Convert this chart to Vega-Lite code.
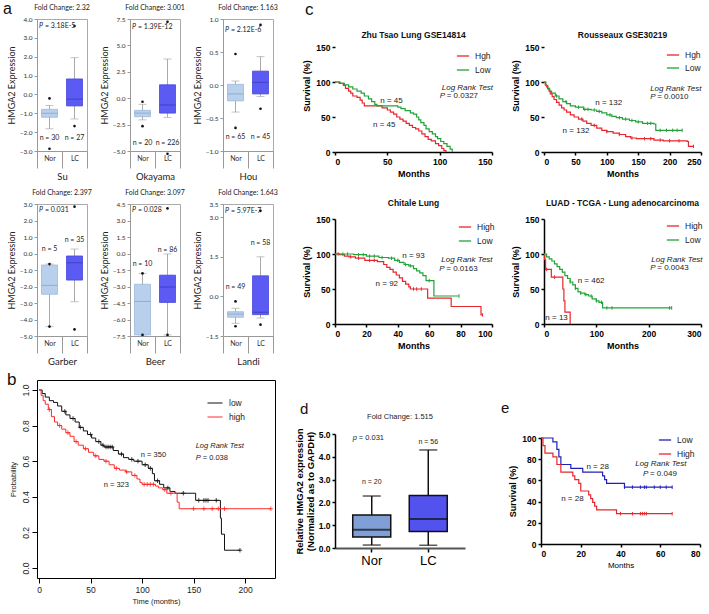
{
"$schema": "https://vega.github.io/schema/vega-lite/v6.json",
"padding": {"left": 3, "top": 0, "right": 0, "bottom": 0},
"background": "white",
"config": {
 "font": "Liberation Sans",
 "view": {"stroke": null},
 "axis": {"grid": false, "labelOverlap": false},
 "title": {"font": "Liberation Sans", "color": "#111"},
 "legend": {"labelFont": "Liberation Sans", "labelColor": "#222"},
 "style": {
  "ax-a": {"domainColor": "#999", "tickColor": "#999", "tickSize": 3, "labelFontSize": 6.5, "labelColor": "#333", "labelFont": "Lato", "titleFont": "Lato", "titleFontSize": 9, "titleFontWeight": "normal", "titleColor": "#222", "titlePadding": 3, "labelPadding": 2, "labelOverlap": false},
  "ax-ax": {"domainColor": "#999", "tickColor": "#999", "tickBand": "extent", "tickSize": 17, "labelPadding": -14, "labelFontSize": 7, "labelAngle": 0, "labelColor": "#333", "labelFont": "Lato", "titleFont": "Lato", "titleFontSize": 9.5, "titleFontWeight": "normal", "titleColor": "#222", "titlePadding": 3},
  "ax-km": {"domainColor": "#000", "domainWidth": 1.5, "tickColor": "#000", "tickWidth": 1.5, "tickSize": 3, "labelFontSize": 8.5, "labelFontWeight": "bold", "labelColor": "#000", "titleFontSize": 9, "titleFontWeight": "bold", "titleColor": "#000", "labelPadding": 2, "titlePadding": 4, "labelOverlap": false},
  "ax-b": {"domain": false, "tickColor": "#000", "tickSize": 5, "labelFontSize": 8.5, "labelColor": "#222", "titleFontSize": 7.5, "titleFontWeight": "normal", "titleColor": "#222", "labelOverlap": false}
 }
},
"datasets": {
 "abox": [
  {"ds":"Su","cat":"Nor","lo":-1.82,"q1":-1.21,"med":-1.0,"q3":-0.79,"hi":-0.59},
  {"ds":"Su","cat":"LC","lo":-1.3,"q1":-0.61,"med":-0.25,"q3":0.82,"hi":1.95},
  {"ds":"Okayama","cat":"Nor","lo":-2.05,"q1":-1.75,"med":-1.41,"q3":-1.15,"hi":-0.58},
  {"ds":"Okayama","cat":"LC","lo":-1.82,"q1":-1.41,"med":-0.64,"q3":1.27,"hi":3.71},
  {"ds":"Hou","cat":"Nor","lo":-0.41,"q1":-0.24,"med":-0.135,"q3":0.01,"hi":0.06},
  {"ds":"Hou","cat":"LC","lo":-0.175,"q1":-0.135,"med":0.04,"q3":0.21,"hi":0.43},
  {"ds":"Garber","cat":"Nor","lo":-4.43,"q1":-2.47,"med":-1.93,"q3":-0.7,"hi":-0.64},
  {"ds":"Garber","cat":"LC","lo":-2.92,"q1":-1.61,"med":-0.56,"q3":-0.15,"hi":0.27},
  {"ds":"Beer","cat":"Nor","lo":-7.4,"q1":-7.4,"med":-4.36,"q3":-2.8,"hi":-1.81},
  {"ds":"Beer","cat":"LC","lo":-7.4,"q1":-4.45,"med":-3.05,"q3":-1.97,"hi":-0.04},
  {"ds":"Landi","cat":"Nor","lo":-1.02,"q1":-0.79,"med":-0.67,"q3":-0.58,"hi":-0.45},
  {"ds":"Landi","cat":"LC","lo":-0.82,"q1":-0.69,"med":-0.6,"q3":0.78,"hi":1.5}
 ],
 "aout": [
  {"ds":"Su","cat":"Nor","v":-0.21},{"ds":"Su","cat":"Nor","v":-2.88},{"ds":"Su","cat":"LC","v":3.63},{"ds":"Su","cat":"LC","v":-1.68},
  {"ds":"Okayama","cat":"Nor","v":-0.34},{"ds":"Okayama","cat":"Nor","v":-2.65},{"ds":"Okayama","cat":"LC","v":7.23},{"ds":"Okayama","cat":"LC","v":-5.27},
  {"ds":"Hou","cat":"Nor","v":0.47},{"ds":"Hou","cat":"Nor","v":-0.65},{"ds":"Hou","cat":"LC","v":0.91},{"ds":"Hou","cat":"LC","v":-0.36},
  {"ds":"Garber","cat":"Nor","v":-0.64},{"ds":"Garber","cat":"Nor","v":-4.43},{"ds":"Garber","cat":"LC","v":2.84},{"ds":"Garber","cat":"LC","v":-4.6},
  {"ds":"Beer","cat":"Nor","v":-1.81},{"ds":"Beer","cat":"Nor","v":-7.4},{"ds":"Beer","cat":"LC","v":4.1},{"ds":"Beer","cat":"LC","v":-7.4},
  {"ds":"Landi","cat":"Nor","v":-0.19},{"ds":"Landi","cat":"Nor","v":-1.13},{"ds":"Landi","cat":"LC","v":3.24},{"ds":"Landi","cat":"LC","v":-1.07}
 ],
 "an": [
  {"ds":"Su","cat":"Nor","y":-2.29,"label":"n = 30"},{"ds":"Su","cat":"LC","y":-2.29,"label":"n = 27"},
  {"ds":"Okayama","cat":"Nor","y":-4.2,"label":"n = 20"},{"ds":"Okayama","cat":"LC","y":-4.2,"label":"n = 226"},
  {"ds":"Hou","cat":"Nor","y":-0.79,"label":"n = 65"},{"ds":"Hou","cat":"LC","y":-0.79,"label":"n = 45"},
  {"ds":"Garber","cat":"Nor","y":0.27,"label":"n = 5"},{"ds":"Garber","cat":"LC","y":0.82,"label":"n = 35"},
  {"ds":"Beer","cat":"Nor","y":-0.97,"label":"n = 10"},{"ds":"Beer","cat":"LC","y":0.3,"label":"n = 86"},
  {"ds":"Landi","cat":"Nor","y":0.34,"label":"n = 49"},{"ds":"Landi","cat":"LC","y":2.02,"label":"n = 58"}
 ],
 "ap": [
  {"ds":"Su","cat":"Nor","y":3.64,"label":"= 3.18E-5"},
  {"ds":"Okayama","cat":"Nor","y":6.73,"label":"= 1.39E-12"},
  {"ds":"Hou","cat":"Nor","y":0.83,"label":"= 2.12E-6"},
  {"ds":"Garber","cat":"Nor","y":2.64,"label":"= 0.031"},
  {"ds":"Beer","cat":"Nor","y":3.94,"label":"= 0.028"},
  {"ds":"Landi","cat":"Nor","y":3.24,"label":"= 5.97E-7"}
 ],
 "kmc": [
  {"p":"zhu","g":"Hgh","t":0,"s":100},{"p":"zhu","g":"Hgh","t":4,"s":98},{"p":"zhu","g":"Hgh","t":8,"s":95},{"p":"zhu","g":"Hgh","t":10,"s":91},{"p":"zhu","g":"Hgh","t":13,"s":87},{"p":"zhu","g":"Hgh","t":15,"s":84},{"p":"zhu","g":"Hgh","t":17,"s":80},{"p":"zhu","g":"Hgh","t":21,"s":78},{"p":"zhu","g":"Hgh","t":24,"s":74},{"p":"zhu","g":"Hgh","t":26,"s":70},{"p":"zhu","g":"Hgh","t":28,"s":66},{"p":"zhu","g":"Hgh","t":45,"s":63},{"p":"zhu","g":"Hgh","t":50,"s":60},{"p":"zhu","g":"Hgh","t":53,"s":57},{"p":"zhu","g":"Hgh","t":56,"s":54},{"p":"zhu","g":"Hgh","t":59,"s":50},{"p":"zhu","g":"Hgh","t":62,"s":47},{"p":"zhu","g":"Hgh","t":65,"s":44},{"p":"zhu","g":"Hgh","t":68,"s":41},{"p":"zhu","g":"Hgh","t":71,"s":38},{"p":"zhu","g":"Hgh","t":74,"s":35},{"p":"zhu","g":"Hgh","t":77,"s":33},{"p":"zhu","g":"Hgh","t":80,"s":30},{"p":"zhu","g":"Hgh","t":83,"s":26},{"p":"zhu","g":"Hgh","t":86,"s":22},{"p":"zhu","g":"Hgh","t":89,"s":18},{"p":"zhu","g":"Hgh","t":92,"s":16},{"p":"zhu","g":"Hgh","t":96,"s":12},{"p":"zhu","g":"Hgh","t":99,"s":9},{"p":"zhu","g":"Hgh","t":102,"s":5},{"p":"zhu","g":"Hgh","t":104,"s":2},{"p":"zhu","g":"Hgh","t":106,"s":0},
  {"p":"zhu","g":"Low","t":0,"s":100},{"p":"zhu","g":"Low","t":5,"s":98},{"p":"zhu","g":"Low","t":9,"s":96},{"p":"zhu","g":"Low","t":13,"s":93},{"p":"zhu","g":"Low","t":17,"s":90},{"p":"zhu","g":"Low","t":21,"s":87},{"p":"zhu","g":"Low","t":25,"s":84},{"p":"zhu","g":"Low","t":28,"s":80},{"p":"zhu","g":"Low","t":32,"s":76},{"p":"zhu","g":"Low","t":35,"s":72},{"p":"zhu","g":"Low","t":38,"s":68},{"p":"zhu","g":"Low","t":40,"s":66},{"p":"zhu","g":"Low","t":60,"s":64},{"p":"zhu","g":"Low","t":63,"s":62},{"p":"zhu","g":"Low","t":67,"s":59},{"p":"zhu","g":"Low","t":72,"s":56},{"p":"zhu","g":"Low","t":75,"s":54},{"p":"zhu","g":"Low","t":78,"s":50},{"p":"zhu","g":"Low","t":80,"s":46},{"p":"zhu","g":"Low","t":82,"s":42},{"p":"zhu","g":"Low","t":85,"s":38},{"p":"zhu","g":"Low","t":87,"s":33},{"p":"zhu","g":"Low","t":90,"s":29},{"p":"zhu","g":"Low","t":93,"s":26},{"p":"zhu","g":"Low","t":96,"s":22},{"p":"zhu","g":"Low","t":98,"s":19},{"p":"zhu","g":"Low","t":101,"s":15},{"p":"zhu","g":"Low","t":104,"s":12},{"p":"zhu","g":"Low","t":107,"s":8},{"p":"zhu","g":"Low","t":110,"s":4},{"p":"zhu","g":"Low","t":112,"s":0},
  {"p":"rou","g":"Hgh","t":0,"s":100},{"p":"rou","g":"Hgh","t":2,"s":96},{"p":"rou","g":"Hgh","t":4,"s":93},{"p":"rou","g":"Hgh","t":6,"s":90},{"p":"rou","g":"Hgh","t":8,"s":87},{"p":"rou","g":"Hgh","t":10,"s":83},{"p":"rou","g":"Hgh","t":13,"s":79},{"p":"rou","g":"Hgh","t":16,"s":75},{"p":"rou","g":"Hgh","t":20,"s":71},{"p":"rou","g":"Hgh","t":24,"s":67},{"p":"rou","g":"Hgh","t":28,"s":63},{"p":"rou","g":"Hgh","t":32,"s":60},{"p":"rou","g":"Hgh","t":36,"s":57},{"p":"rou","g":"Hgh","t":42,"s":53},{"p":"rou","g":"Hgh","t":48,"s":50},{"p":"rou","g":"Hgh","t":55,"s":47},{"p":"rou","g":"Hgh","t":62,"s":44},{"p":"rou","g":"Hgh","t":68,"s":41},{"p":"rou","g":"Hgh","t":75,"s":38},{"p":"rou","g":"Hgh","t":84,"s":34},{"p":"rou","g":"Hgh","t":92,"s":31},{"p":"rou","g":"Hgh","t":100,"s":29},{"p":"rou","g":"Hgh","t":110,"s":27},{"p":"rou","g":"Hgh","t":120,"s":25},{"p":"rou","g":"Hgh","t":130,"s":22},{"p":"rou","g":"Hgh","t":138,"s":20},{"p":"rou","g":"Hgh","t":147,"s":19},{"p":"rou","g":"Hgh","t":175,"s":17},{"p":"rou","g":"Hgh","t":190,"s":16},{"p":"rou","g":"Hgh","t":228,"s":15},{"p":"rou","g":"Hgh","t":230,"s":8},{"p":"rou","g":"Hgh","t":238,"s":8},
  {"p":"rou","g":"Low","t":0,"s":100},{"p":"rou","g":"Low","t":3,"s":95},{"p":"rou","g":"Low","t":6,"s":91},{"p":"rou","g":"Low","t":9,"s":87},{"p":"rou","g":"Low","t":12,"s":84},{"p":"rou","g":"Low","t":18,"s":80},{"p":"rou","g":"Low","t":24,"s":76},{"p":"rou","g":"Low","t":30,"s":72},{"p":"rou","g":"Low","t":36,"s":69},{"p":"rou","g":"Low","t":42,"s":66},{"p":"rou","g":"Low","t":50,"s":64},{"p":"rou","g":"Low","t":63,"s":61},{"p":"rou","g":"Low","t":75,"s":60},{"p":"rou","g":"Low","t":84,"s":58},{"p":"rou","g":"Low","t":92,"s":56},{"p":"rou","g":"Low","t":100,"s":53},{"p":"rou","g":"Low","t":108,"s":51},{"p":"rou","g":"Low","t":115,"s":49},{"p":"rou","g":"Low","t":125,"s":47},{"p":"rou","g":"Low","t":136,"s":45},{"p":"rou","g":"Low","t":146,"s":43},{"p":"rou","g":"Low","t":157,"s":41},{"p":"rou","g":"Low","t":175,"s":40},{"p":"rou","g":"Low","t":178,"s":31},{"p":"rou","g":"Low","t":220,"s":31},
  {"p":"chi","g":"High","t":0,"s":100},{"p":"chi","g":"High","t":3,"s":99},{"p":"chi","g":"High","t":6,"s":97},{"p":"chi","g":"High","t":9,"s":96},{"p":"chi","g":"High","t":13,"s":94},{"p":"chi","g":"High","t":19,"s":91},{"p":"chi","g":"High","t":27,"s":89},{"p":"chi","g":"High","t":31,"s":85},{"p":"chi","g":"High","t":33,"s":81},{"p":"chi","g":"High","t":35,"s":78},{"p":"chi","g":"High","t":37,"s":74},{"p":"chi","g":"High","t":39,"s":70},{"p":"chi","g":"High","t":41,"s":66},{"p":"chi","g":"High","t":43,"s":61},{"p":"chi","g":"High","t":45,"s":57},{"p":"chi","g":"High","t":47,"s":53},{"p":"chi","g":"High","t":48,"s":50},{"p":"chi","g":"High","t":59,"s":37},{"p":"chi","g":"High","t":74,"s":25},{"p":"chi","g":"High","t":93,"s":13},{"p":"chi","g":"High","t":94,"s":13},
  {"p":"chi","g":"Low","t":0,"s":100},{"p":"chi","g":"Low","t":12,"s":99},{"p":"chi","g":"Low","t":20,"s":97},{"p":"chi","g":"Low","t":28,"s":95},{"p":"chi","g":"Low","t":34,"s":94},{"p":"chi","g":"Low","t":38,"s":91},{"p":"chi","g":"Low","t":41,"s":88},{"p":"chi","g":"Low","t":44,"s":85},{"p":"chi","g":"Low","t":47,"s":83},{"p":"chi","g":"Low","t":50,"s":79},{"p":"chi","g":"Low","t":52,"s":76},{"p":"chi","g":"Low","t":54,"s":73},{"p":"chi","g":"Low","t":56,"s":69},{"p":"chi","g":"Low","t":58,"s":62},{"p":"chi","g":"Low","t":63,"s":40},{"p":"chi","g":"Low","t":79,"s":40},
  {"p":"luad","g":"High","t":0,"s":100},{"p":"luad","g":"High","t":1,"s":92},{"p":"luad","g":"High","t":3,"s":78},{"p":"luad","g":"High","t":14,"s":67},{"p":"luad","g":"High","t":36,"s":50},{"p":"luad","g":"High","t":38,"s":33},{"p":"luad","g":"High","t":40,"s":17},{"p":"luad","g":"High","t":50,"s":0},
  {"p":"luad","g":"Low","t":0,"s":100},{"p":"luad","g":"Low","t":5,"s":96},{"p":"luad","g":"Low","t":10,"s":93},{"p":"luad","g":"Low","t":15,"s":90},{"p":"luad","g":"Low","t":20,"s":86},{"p":"luad","g":"Low","t":25,"s":82},{"p":"luad","g":"Low","t":30,"s":78},{"p":"luad","g":"Low","t":35,"s":74},{"p":"luad","g":"Low","t":40,"s":69},{"p":"luad","g":"Low","t":45,"s":65},{"p":"luad","g":"Low","t":50,"s":60},{"p":"luad","g":"Low","t":55,"s":56},{"p":"luad","g":"Low","t":60,"s":51},{"p":"luad","g":"Low","t":65,"s":46},{"p":"luad","g":"Low","t":70,"s":44},{"p":"luad","g":"Low","t":78,"s":42},{"p":"luad","g":"Low","t":85,"s":40},{"p":"luad","g":"Low","t":92,"s":36},{"p":"luad","g":"Low","t":100,"s":33},{"p":"luad","g":"Low","t":105,"s":31},{"p":"luad","g":"Low","t":112,"s":23},{"p":"luad","g":"Low","t":244,"s":23}
 ],
 "cc": [
  {"p":"rou","g":"Low","t":20,"s":80},{"p":"rou","g":"Low","t":35,"s":72},{"p":"rou","g":"Low","t":55,"s":64},{"p":"rou","g":"Low","t":65,"s":61},{"p":"rou","g":"Low","t":70,"s":61},{"p":"rou","g":"Low","t":80,"s":60},{"p":"rou","g":"Low","t":88,"s":58},{"p":"rou","g":"Low","t":105,"s":53},{"p":"rou","g":"Low","t":120,"s":49},{"p":"rou","g":"Low","t":130,"s":47},{"p":"rou","g":"Low","t":140,"s":45},{"p":"rou","g":"Low","t":150,"s":43},{"p":"rou","g":"Low","t":165,"s":41},{"p":"rou","g":"Low","t":170,"s":41},{"p":"rou","g":"Low","t":185,"s":31},{"p":"rou","g":"Low","t":195,"s":31},{"p":"rou","g":"Low","t":205,"s":31},{"p":"rou","g":"Low","t":212,"s":31},{"p":"rou","g":"Low","t":220,"s":31},
  {"p":"rou","g":"Hgh","t":60,"s":47},{"p":"rou","g":"Hgh","t":80,"s":38},{"p":"rou","g":"Hgh","t":100,"s":29},{"p":"rou","g":"Hgh","t":120,"s":25},{"p":"rou","g":"Hgh","t":140,"s":20},{"p":"rou","g":"Hgh","t":160,"s":19},{"p":"rou","g":"Hgh","t":170,"s":19},{"p":"rou","g":"Hgh","t":185,"s":17},{"p":"rou","g":"Hgh","t":200,"s":16},{"p":"rou","g":"Hgh","t":215,"s":16},{"p":"rou","g":"Hgh","t":238,"s":8},
  {"p":"chi","g":"Low","t":5,"s":100},{"p":"chi","g":"Low","t":8,"s":100},{"p":"chi","g":"Low","t":15,"s":99},{"p":"chi","g":"Low","t":18,"s":99},{"p":"chi","g":"Low","t":22,"s":97},{"p":"chi","g":"Low","t":25,"s":97},{"p":"chi","g":"Low","t":30,"s":95},{"p":"chi","g":"Low","t":36,"s":94},{"p":"chi","g":"Low","t":40,"s":91},{"p":"chi","g":"Low","t":45,"s":85},{"p":"chi","g":"Low","t":48,"s":83},{"p":"chi","g":"Low","t":60,"s":62},{"p":"chi","g":"Low","t":79,"s":40},
  {"p":"chi","g":"High","t":2,"s":100},{"p":"chi","g":"High","t":10,"s":96},{"p":"chi","g":"High","t":15,"s":94},{"p":"chi","g":"High","t":22,"s":91},{"p":"chi","g":"High","t":25,"s":91},{"p":"chi","g":"High","t":50,"s":50},{"p":"chi","g":"High","t":52,"s":50},{"p":"chi","g":"High","t":55,"s":50},{"p":"chi","g":"High","t":94,"s":13},
  {"p":"luad","g":"Low","t":50,"s":60},{"p":"luad","g":"Low","t":60,"s":51},{"p":"luad","g":"Low","t":70,"s":44},{"p":"luad","g":"Low","t":80,"s":42},{"p":"luad","g":"Low","t":90,"s":40},{"p":"luad","g":"Low","t":100,"s":33},{"p":"luad","g":"Low","t":110,"s":31},{"p":"luad","g":"Low","t":120,"s":23},{"p":"luad","g":"Low","t":130,"s":23},{"p":"luad","g":"Low","t":240,"s":23},{"p":"luad","g":"Low","t":244,"s":23},
  {"p":"luad","g":"High","t":5,"s":78},{"p":"luad","g":"High","t":20,"s":67}
 ],
 "tc": [
  {"p":"zhu","kind":"n","t":54,"s":73,"label":"n = 45"},{"p":"zhu","kind":"n","t":47,"s":39,"label":"n = 45"},{"p":"zhu","kind":"test","t":102,"s":91,"label":"Log Rank Test"},{"p":"zhu","kind":"p","t":100,"s":80,"label":"= 0.0327"},
  {"p":"rou","kind":"n","t":103,"s":70,"label":"n = 132"},{"p":"rou","kind":"n","t":51,"s":30,"label":"n = 132"},{"p":"rou","kind":"test","t":169,"s":90,"label":"Log Rank Test"},{"p":"rou","kind":"p","t":169,"s":78,"label":"= 0.0010"},
  {"p":"chi","kind":"n","t":50,"s":97,"label":"n = 93"},{"p":"chi","kind":"n","t":33,"s":57,"label":"n = 92"},{"p":"chi","kind":"test","t":67.7,"s":91,"label":"Log Rank Test"},{"p":"chi","kind":"p","t":66.4,"s":79,"label":"= 0.0163"},
  {"p":"luad","kind":"n","t":90,"s":62,"label":"n = 462"},{"p":"luad","kind":"n","t":24,"s":8,"label":"n = 13"},{"p":"luad","kind":"test","t":205,"s":92,"label":"Log Rank Test"},{"p":"luad","kind":"p","t":203,"s":80.5,"label":"= 0.0043"},
  {"p":"b","kind":"n","t":111,"s":0.636,"label":"n = 350"},{"p":"b","kind":"n","t":75,"s":0.464,"label":"n = 323"},{"p":"b","kind":"test","t":152,"s":0.688,"label":"Log Rank Test"},{"p":"b","kind":"p","t":152,"s":0.617,"label":"= 0.038"},
  {"p":"e","kind":"n","t":28.5,"s":73,"label":"n = 28"},{"p":"e","kind":"n","t":15.8,"s":42.6,"label":"n = 28"},{"p":"e","kind":"test","t":47.4,"s":75.4,"label":"Log Rank Test"},{"p":"e","kind":"p","t":51.3,"s":66.2,"label":"= 0.049"}
 ],
 "kmb": [
  {"g":"low","t":0,"s":1.0},{"g":"low","t":3,"s":0.98},{"g":"low","t":6,"s":0.96},{"g":"low","t":10,"s":0.94},{"g":"low","t":14,"s":0.93},{"g":"low","t":18,"s":0.91},{"g":"low","t":22,"s":0.88},{"g":"low","t":26,"s":0.86},{"g":"low","t":30,"s":0.84},{"g":"low","t":35,"s":0.82},{"g":"low","t":39,"s":0.79},{"g":"low","t":43,"s":0.77},{"g":"low","t":47,"s":0.75},{"g":"low","t":51,"s":0.73},{"g":"low","t":55,"s":0.71},{"g":"low","t":60,"s":0.69},{"g":"low","t":63,"s":0.68},{"g":"low","t":72,"s":0.66},{"g":"low","t":77,"s":0.64},{"g":"low","t":82,"s":0.62},{"g":"low","t":87,"s":0.61},{"g":"low","t":92,"s":0.6},{"g":"low","t":100,"s":0.58},{"g":"low","t":106,"s":0.56},{"g":"low","t":110,"s":0.53},{"g":"low","t":112,"s":0.49},{"g":"low","t":117,"s":0.47},{"g":"low","t":121,"s":0.45},{"g":"low","t":127,"s":0.43},{"g":"low","t":132,"s":0.42},{"g":"low","t":152,"s":0.38},{"g":"low","t":176,"s":0.28},{"g":"low","t":177,"s":0.19},{"g":"low","t":180,"s":0.1},{"g":"low","t":195,"s":0.1},
  {"g":"high","t":0,"s":1.0},{"g":"high","t":2,"s":0.97},{"g":"high","t":4,"s":0.94},{"g":"high","t":6,"s":0.92},{"g":"high","t":9,"s":0.89},{"g":"high","t":12,"s":0.85},{"g":"high","t":15,"s":0.82},{"g":"high","t":18,"s":0.8},{"g":"high","t":22,"s":0.78},{"g":"high","t":26,"s":0.76},{"g":"high","t":30,"s":0.74},{"g":"high","t":34,"s":0.71},{"g":"high","t":38,"s":0.69},{"g":"high","t":43,"s":0.67},{"g":"high","t":48,"s":0.65},{"g":"high","t":53,"s":0.63},{"g":"high","t":58,"s":0.61},{"g":"high","t":63,"s":0.6},{"g":"high","t":68,"s":0.58},{"g":"high","t":73,"s":0.56},{"g":"high","t":78,"s":0.55},{"g":"high","t":84,"s":0.54},{"g":"high","t":90,"s":0.52},{"g":"high","t":95,"s":0.5},{"g":"high","t":98,"s":0.48},{"g":"high","t":100,"s":0.47},{"g":"high","t":113,"s":0.46},{"g":"high","t":116,"s":0.45},{"g":"high","t":120,"s":0.44},{"g":"high","t":124,"s":0.42},{"g":"high","t":134,"s":0.37},{"g":"high","t":136,"s":0.333},{"g":"high","t":225,"s":0.333}
 ],
 "cb": [
  {"g":"low","t":25,"s":0.88},{"g":"low","t":33,"s":0.84},{"g":"low","t":40,"s":0.79},{"g":"low","t":50,"s":0.75},{"g":"low","t":58,"s":0.71},{"g":"low","t":62,"s":0.69},{"g":"low","t":65,"s":0.68},{"g":"low","t":67,"s":0.68},{"g":"low","t":69,"s":0.68},{"g":"low","t":71,"s":0.68},{"g":"low","t":80,"s":0.64},{"g":"low","t":90,"s":0.61},{"g":"low","t":96,"s":0.6},{"g":"low","t":103,"s":0.58},{"g":"low","t":108,"s":0.56},{"g":"low","t":115,"s":0.49},{"g":"low","t":125,"s":0.45},{"g":"low","t":140,"s":0.42},{"g":"low","t":155,"s":0.38},{"g":"low","t":160,"s":0.38},{"g":"low","t":162,"s":0.38},{"g":"low","t":164,"s":0.38},{"g":"low","t":172,"s":0.38},{"g":"low","t":195,"s":0.1},
  {"g":"high","t":10,"s":0.89},{"g":"high","t":20,"s":0.8},{"g":"high","t":28,"s":0.76},{"g":"high","t":36,"s":0.71},{"g":"high","t":45,"s":0.67},{"g":"high","t":55,"s":0.63},{"g":"high","t":65,"s":0.6},{"g":"high","t":75,"s":0.56},{"g":"high","t":85,"s":0.54},{"g":"high","t":93,"s":0.52},{"g":"high","t":102,"s":0.47},{"g":"high","t":105,"s":0.47},{"g":"high","t":108,"s":0.47},{"g":"high","t":111,"s":0.47},{"g":"high","t":122,"s":0.44},{"g":"high","t":128,"s":0.42},{"g":"high","t":150,"s":0.333},{"g":"high","t":160,"s":0.333},{"g":"high","t":168,"s":0.333},{"g":"high","t":174,"s":0.333},{"g":"high","t":180,"s":0.333},{"g":"high","t":225,"s":0.333}
 ],
 "kme": [
  {"g":"Low","t":0,"s":100},{"g":"Low","t":6,"s":96.4},{"g":"Low","t":8,"s":89.3},{"g":"Low","t":9,"s":82.1},{"g":"Low","t":10,"s":75},{"g":"Low","t":15,"s":71.4},{"g":"Low","t":21,"s":67.9},{"g":"Low","t":31,"s":64.3},{"g":"Low","t":32,"s":60.7},{"g":"Low","t":33,"s":57.1},{"g":"Low","t":42,"s":53.6},{"g":"Low","t":66,"s":53.6},
  {"g":"High","t":0,"s":100},{"g":"High","t":1,"s":92.9},{"g":"High","t":2,"s":85.7},{"g":"High","t":6,"s":82.1},{"g":"High","t":8,"s":75},{"g":"High","t":10,"s":67.9},{"g":"High","t":16,"s":64.3},{"g":"High","t":17,"s":60.7},{"g":"High","t":19,"s":57.1},{"g":"High","t":20,"s":50},{"g":"High","t":24,"s":46.4},{"g":"High","t":25,"s":42.9},{"g":"High","t":26,"s":39.3},{"g":"High","t":27,"s":35.7},{"g":"High","t":28,"s":32.1},{"g":"High","t":38,"s":28.6},{"g":"High","t":66,"s":28.6}
 ],
 "ce": [
  {"g":"Low","t":42,"s":53.6},{"g":"Low","t":46,"s":53.6},{"g":"Low","t":50,"s":53.6},{"g":"Low","t":52,"s":53.6},{"g":"Low","t":53,"s":53.6},{"g":"Low","t":57,"s":53.6},{"g":"Low","t":60,"s":53.6},{"g":"Low","t":63,"s":53.6},{"g":"Low","t":66,"s":53.6},
  {"g":"High","t":40,"s":28.6},{"g":"High","t":46,"s":28.6},{"g":"High","t":50,"s":28.6},{"g":"High","t":51,"s":28.6},{"g":"High","t":52,"s":28.6},{"g":"High","t":53,"s":28.6},{"g":"High","t":66,"s":28.6}
 ],
 "dbox": [
  {"cat":"Nor","lo":0.13,"q1":0.48,"med":0.8,"q3":1.45,"hi":2.28},
  {"cat":"LC","lo":0.12,"q1":0.72,"med":1.27,"q3":2.3,"hi":4.3}
 ],
 "dn": [
  {"cat":"Nor","y":2.9,"label":"n = 20"},{"cat":"LC","y":4.66,"label":"n = 56"}
 ],
 "dp": [
  {"cat":"Nor","y":4.82,"label":"= 0.031"}
 ]
},
"concat": [
 {
  "concat": [
   {
    "concat": [
     {
      "hconcat": [
       {"width":50,"height":132,"title":{"text":"Fold Change: 2.32","fontSize":7,"font":"Lato","fontWeight":"normal","color":"#222","offset":5},"view":{"stroke":"#aaa"},
        "layer":[
         {"data":{"name":"abox"},"transform":[{"filter":"datum.ds=='Su'"}],"mark":{"type":"rule","color":"#aaa"},"encoding":{"x":{"field":"cat","type":"nominal","scale":{"domain":["Nor","LC"],"paddingInner":0,"paddingOuter":0},"axis":{"style":"ax-ax","title":"Su"}},"y":{"field":"lo","type":"quantitative","scale":{"domain":[-3,4],"nice":false,"zero":false},"axis":{"style":"ax-a","values":[-3,-2,-1,0,1,2,3,4],"tickCount":20,"format":".1f","title":"HMGA2  Expression"}},"y2":{"field":"hi"}}},
         {"data":{"name":"abox"},"transform":[{"filter":"datum.ds=='Su'"}],"mark":{"type":"tick","color":"#aaa","size":8,"thickness":1},"encoding":{"x":{"field":"cat","type":"nominal"},"y":{"field":"lo","type":"quantitative"}}},
         {"data":{"name":"abox"},"transform":[{"filter":"datum.ds=='Su'"}],"mark":{"type":"tick","color":"#aaa","size":8,"thickness":1},"encoding":{"x":{"field":"cat","type":"nominal"},"y":{"field":"hi","type":"quantitative"}}},
         {"data":{"name":"abox"},"transform":[{"filter":"datum.ds=='Su'"}],"mark":{"type":"bar","size":16,"strokeWidth":0.8},"encoding":{"x":{"field":"cat","type":"nominal"},"y":{"field":"q1","type":"quantitative"},"y2":{"field":"q3"},"fill":{"condition":{"test":"datum.cat=='Nor'","value":"#b8d0ec"},"value":"#5b5bf3"},"stroke":{"condition":{"test":"datum.cat=='Nor'","value":"#9cb8dd"},"value":"#4848dc"}}},
         {"data":{"name":"abox"},"transform":[{"filter":"datum.ds=='Su'"}],"mark":{"type":"tick","size":16,"thickness":1},"encoding":{"x":{"field":"cat","type":"nominal"},"y":{"field":"med","type":"quantitative"},"color":{"condition":{"test":"datum.cat=='Nor'","value":"#7d9dc8"},"value":"#3434b8"}}},
         {"data":{"name":"aout"},"transform":[{"filter":"datum.ds=='Su'"}],"mark":{"type":"circle","size":7,"color":"#111","opacity":1},"encoding":{"x":{"field":"cat","type":"nominal"},"y":{"field":"v","type":"quantitative"}}},
         {"data":{"name":"an"},"transform":[{"filter":"datum.ds=='Su'"}],"mark":{"type":"text","fontSize":7,"font":"Lato","color":"#222"},"encoding":{"x":{"field":"cat","type":"nominal"},"y":{"field":"y","type":"quantitative"},"text":{"field":"label"}}},
         {"data":{"name":"ap"},"transform":[{"filter":"datum.ds=='Su'"}],"mark":{"type":"text","fontSize":7,"font":"Lato","fontStyle":"italic","align":"left","dx":2,"text":"P","color":"#222"},"encoding":{"x":{"field":"cat","type":"nominal","bandPosition":0},"y":{"field":"y","type":"quantitative"}}},
         {"data":{"name":"ap"},"transform":[{"filter":"datum.ds=='Su'"}],"mark":{"type":"text","fontSize":7,"font":"Lato","align":"left","dx":8,"color":"#222"},"encoding":{"x":{"field":"cat","type":"nominal","bandPosition":0},"y":{"field":"y","type":"quantitative"},"text":{"field":"label"}}}
        ]},
       {"width":50,"height":132,"title":{"text":"Fold Change: 3.001","fontSize":7,"font":"Lato","fontWeight":"normal","color":"#222","offset":5},"view":{"stroke":"#aaa"},
        "layer":[
         {"data":{"name":"abox"},"transform":[{"filter":"datum.ds=='Okayama'"}],"mark":{"type":"rule","color":"#aaa"},"encoding":{"x":{"field":"cat","type":"nominal","scale":{"domain":["Nor","LC"],"paddingInner":0,"paddingOuter":0},"axis":{"style":"ax-ax","title":"Okayama"}},"y":{"field":"lo","type":"quantitative","scale":{"domain":[-5,7.5],"nice":false,"zero":false},"axis":{"style":"ax-a","values":[-5,-2.5,0,2.5,5,7.5],"tickCount":20,"format":".1f","title":"HMGA2  Expression"}},"y2":{"field":"hi"}}},
         {"data":{"name":"abox"},"transform":[{"filter":"datum.ds=='Okayama'"}],"mark":{"type":"tick","color":"#aaa","size":8,"thickness":1},"encoding":{"x":{"field":"cat","type":"nominal"},"y":{"field":"lo","type":"quantitative"}}},
         {"data":{"name":"abox"},"transform":[{"filter":"datum.ds=='Okayama'"}],"mark":{"type":"tick","color":"#aaa","size":8,"thickness":1},"encoding":{"x":{"field":"cat","type":"nominal"},"y":{"field":"hi","type":"quantitative"}}},
         {"data":{"name":"abox"},"transform":[{"filter":"datum.ds=='Okayama'"}],"mark":{"type":"bar","size":16,"strokeWidth":0.8},"encoding":{"x":{"field":"cat","type":"nominal"},"y":{"field":"q1","type":"quantitative"},"y2":{"field":"q3"},"fill":{"condition":{"test":"datum.cat=='Nor'","value":"#b8d0ec"},"value":"#5b5bf3"},"stroke":{"condition":{"test":"datum.cat=='Nor'","value":"#9cb8dd"},"value":"#4848dc"}}},
         {"data":{"name":"abox"},"transform":[{"filter":"datum.ds=='Okayama'"}],"mark":{"type":"tick","size":16,"thickness":1},"encoding":{"x":{"field":"cat","type":"nominal"},"y":{"field":"med","type":"quantitative"},"color":{"condition":{"test":"datum.cat=='Nor'","value":"#7d9dc8"},"value":"#3434b8"}}},
         {"data":{"name":"aout"},"transform":[{"filter":"datum.ds=='Okayama'"}],"mark":{"type":"circle","size":7,"color":"#111","opacity":1},"encoding":{"x":{"field":"cat","type":"nominal"},"y":{"field":"v","type":"quantitative"}}},
         {"data":{"name":"an"},"transform":[{"filter":"datum.ds=='Okayama'"}],"mark":{"type":"text","fontSize":7,"font":"Lato","color":"#222"},"encoding":{"x":{"field":"cat","type":"nominal"},"y":{"field":"y","type":"quantitative"},"text":{"field":"label"}}},
         {"data":{"name":"ap"},"transform":[{"filter":"datum.ds=='Okayama'"}],"mark":{"type":"text","fontSize":7,"font":"Lato","fontStyle":"italic","align":"left","dx":2,"text":"P","color":"#222"},"encoding":{"x":{"field":"cat","type":"nominal","bandPosition":0},"y":{"field":"y","type":"quantitative"}}},
         {"data":{"name":"ap"},"transform":[{"filter":"datum.ds=='Okayama'"}],"mark":{"type":"text","fontSize":7,"font":"Lato","align":"left","dx":8,"color":"#222"},"encoding":{"x":{"field":"cat","type":"nominal","bandPosition":0},"y":{"field":"y","type":"quantitative"},"text":{"field":"label"}}}
        ]},
       {"width":50,"height":132,"title":{"text":"Fold Change: 1.163","fontSize":7,"font":"Lato","fontWeight":"normal","color":"#222","offset":5},"view":{"stroke":"#aaa"},
        "layer":[
         {"data":{"name":"abox"},"transform":[{"filter":"datum.ds=='Hou'"}],"mark":{"type":"rule","color":"#aaa"},"encoding":{"x":{"field":"cat","type":"nominal","scale":{"domain":["Nor","LC"],"paddingInner":0,"paddingOuter":0},"axis":{"style":"ax-ax","title":"Hou"}},"y":{"field":"lo","type":"quantitative","scale":{"domain":[-1,1],"nice":false,"zero":false},"axis":{"style":"ax-a","values":[-1,-0.5,0,0.5,1],"tickCount":20,"format":".1f","title":"HMGA2  Expression"}},"y2":{"field":"hi"}}},
         {"data":{"name":"abox"},"transform":[{"filter":"datum.ds=='Hou'"}],"mark":{"type":"tick","color":"#aaa","size":8,"thickness":1},"encoding":{"x":{"field":"cat","type":"nominal"},"y":{"field":"lo","type":"quantitative"}}},
         {"data":{"name":"abox"},"transform":[{"filter":"datum.ds=='Hou'"}],"mark":{"type":"tick","color":"#aaa","size":8,"thickness":1},"encoding":{"x":{"field":"cat","type":"nominal"},"y":{"field":"hi","type":"quantitative"}}},
         {"data":{"name":"abox"},"transform":[{"filter":"datum.ds=='Hou'"}],"mark":{"type":"bar","size":16,"strokeWidth":0.8},"encoding":{"x":{"field":"cat","type":"nominal"},"y":{"field":"q1","type":"quantitative"},"y2":{"field":"q3"},"fill":{"condition":{"test":"datum.cat=='Nor'","value":"#b8d0ec"},"value":"#5b5bf3"},"stroke":{"condition":{"test":"datum.cat=='Nor'","value":"#9cb8dd"},"value":"#4848dc"}}},
         {"data":{"name":"abox"},"transform":[{"filter":"datum.ds=='Hou'"}],"mark":{"type":"tick","size":16,"thickness":1},"encoding":{"x":{"field":"cat","type":"nominal"},"y":{"field":"med","type":"quantitative"},"color":{"condition":{"test":"datum.cat=='Nor'","value":"#7d9dc8"},"value":"#3434b8"}}},
         {"data":{"name":"aout"},"transform":[{"filter":"datum.ds=='Hou'"}],"mark":{"type":"circle","size":7,"color":"#111","opacity":1},"encoding":{"x":{"field":"cat","type":"nominal"},"y":{"field":"v","type":"quantitative"}}},
         {"data":{"name":"an"},"transform":[{"filter":"datum.ds=='Hou'"}],"mark":{"type":"text","fontSize":7,"font":"Lato","color":"#222"},"encoding":{"x":{"field":"cat","type":"nominal"},"y":{"field":"y","type":"quantitative"},"text":{"field":"label"}}},
         {"data":{"name":"ap"},"transform":[{"filter":"datum.ds=='Hou'"}],"mark":{"type":"text","fontSize":7,"font":"Lato","fontStyle":"italic","align":"left","dx":2,"text":"P","color":"#222"},"encoding":{"x":{"field":"cat","type":"nominal","bandPosition":0},"y":{"field":"y","type":"quantitative"}}},
         {"data":{"name":"ap"},"transform":[{"filter":"datum.ds=='Hou'"}],"mark":{"type":"text","fontSize":7,"font":"Lato","align":"left","dx":8,"color":"#222"},"encoding":{"x":{"field":"cat","type":"nominal","bandPosition":0},"y":{"field":"y","type":"quantitative"},"text":{"field":"label"}}}
        ]}
      ],
      "spacing": 43, "bounds": "flush"
     },
     {
      "hconcat": [
       {"width":50,"height":132,"title":{"text":"Fold Change: 2.397","fontSize":7,"font":"Lato","fontWeight":"normal","color":"#222","offset":5},"view":{"stroke":"#aaa"},
        "layer":[
         {"data":{"name":"abox"},"transform":[{"filter":"datum.ds=='Garber'"}],"mark":{"type":"rule","color":"#aaa"},"encoding":{"x":{"field":"cat","type":"nominal","scale":{"domain":["Nor","LC"],"paddingInner":0,"paddingOuter":0},"axis":{"style":"ax-ax","title":"Garber"}},"y":{"field":"lo","type":"quantitative","scale":{"domain":[-5,3],"nice":false,"zero":false},"axis":{"style":"ax-a","values":[-5,-4,-3,-2,-1,0,1,2,3],"tickCount":20,"format":".1f","title":"HMGA2  Expression"}},"y2":{"field":"hi"}}},
         {"data":{"name":"abox"},"transform":[{"filter":"datum.ds=='Garber'"}],"mark":{"type":"tick","color":"#aaa","size":8,"thickness":1},"encoding":{"x":{"field":"cat","type":"nominal"},"y":{"field":"lo","type":"quantitative"}}},
         {"data":{"name":"abox"},"transform":[{"filter":"datum.ds=='Garber'"}],"mark":{"type":"tick","color":"#aaa","size":8,"thickness":1},"encoding":{"x":{"field":"cat","type":"nominal"},"y":{"field":"hi","type":"quantitative"}}},
         {"data":{"name":"abox"},"transform":[{"filter":"datum.ds=='Garber'"}],"mark":{"type":"bar","size":16,"strokeWidth":0.8},"encoding":{"x":{"field":"cat","type":"nominal"},"y":{"field":"q1","type":"quantitative"},"y2":{"field":"q3"},"fill":{"condition":{"test":"datum.cat=='Nor'","value":"#b8d0ec"},"value":"#5b5bf3"},"stroke":{"condition":{"test":"datum.cat=='Nor'","value":"#9cb8dd"},"value":"#4848dc"}}},
         {"data":{"name":"abox"},"transform":[{"filter":"datum.ds=='Garber'"}],"mark":{"type":"tick","size":16,"thickness":1},"encoding":{"x":{"field":"cat","type":"nominal"},"y":{"field":"med","type":"quantitative"},"color":{"condition":{"test":"datum.cat=='Nor'","value":"#7d9dc8"},"value":"#3434b8"}}},
         {"data":{"name":"aout"},"transform":[{"filter":"datum.ds=='Garber'"}],"mark":{"type":"circle","size":7,"color":"#111","opacity":1},"encoding":{"x":{"field":"cat","type":"nominal"},"y":{"field":"v","type":"quantitative"}}},
         {"data":{"name":"an"},"transform":[{"filter":"datum.ds=='Garber'"}],"mark":{"type":"text","fontSize":7,"font":"Lato","color":"#222"},"encoding":{"x":{"field":"cat","type":"nominal"},"y":{"field":"y","type":"quantitative"},"text":{"field":"label"}}},
         {"data":{"name":"ap"},"transform":[{"filter":"datum.ds=='Garber'"}],"mark":{"type":"text","fontSize":7,"font":"Lato","fontStyle":"italic","align":"left","dx":2,"text":"P","color":"#222"},"encoding":{"x":{"field":"cat","type":"nominal","bandPosition":0},"y":{"field":"y","type":"quantitative"}}},
         {"data":{"name":"ap"},"transform":[{"filter":"datum.ds=='Garber'"}],"mark":{"type":"text","fontSize":7,"font":"Lato","align":"left","dx":8,"color":"#222"},"encoding":{"x":{"field":"cat","type":"nominal","bandPosition":0},"y":{"field":"y","type":"quantitative"},"text":{"field":"label"}}}
        ]},
       {"width":50,"height":132,"title":{"text":"Fold Change: 3.097","fontSize":7,"font":"Lato","fontWeight":"normal","color":"#222","offset":5},"view":{"stroke":"#aaa"},
        "layer":[
         {"data":{"name":"abox"},"transform":[{"filter":"datum.ds=='Beer'"}],"mark":{"type":"rule","color":"#aaa"},"encoding":{"x":{"field":"cat","type":"nominal","scale":{"domain":["Nor","LC"],"paddingInner":0,"paddingOuter":0},"axis":{"style":"ax-ax","title":"Beer"}},"y":{"field":"lo","type":"quantitative","scale":{"domain":[-7.5,4.5],"nice":false,"zero":false},"axis":{"style":"ax-a","values":[-7.5,-6,-4.5,-3,-1.5,0,1.5,3,4.5],"tickCount":20,"format":".1f","title":"HMGA2  Expression"}},"y2":{"field":"hi"}}},
         {"data":{"name":"abox"},"transform":[{"filter":"datum.ds=='Beer'"}],"mark":{"type":"tick","color":"#aaa","size":8,"thickness":1},"encoding":{"x":{"field":"cat","type":"nominal"},"y":{"field":"lo","type":"quantitative"}}},
         {"data":{"name":"abox"},"transform":[{"filter":"datum.ds=='Beer'"}],"mark":{"type":"tick","color":"#aaa","size":8,"thickness":1},"encoding":{"x":{"field":"cat","type":"nominal"},"y":{"field":"hi","type":"quantitative"}}},
         {"data":{"name":"abox"},"transform":[{"filter":"datum.ds=='Beer'"}],"mark":{"type":"bar","size":16,"strokeWidth":0.8},"encoding":{"x":{"field":"cat","type":"nominal"},"y":{"field":"q1","type":"quantitative"},"y2":{"field":"q3"},"fill":{"condition":{"test":"datum.cat=='Nor'","value":"#b8d0ec"},"value":"#5b5bf3"},"stroke":{"condition":{"test":"datum.cat=='Nor'","value":"#9cb8dd"},"value":"#4848dc"}}},
         {"data":{"name":"abox"},"transform":[{"filter":"datum.ds=='Beer'"}],"mark":{"type":"tick","size":16,"thickness":1},"encoding":{"x":{"field":"cat","type":"nominal"},"y":{"field":"med","type":"quantitative"},"color":{"condition":{"test":"datum.cat=='Nor'","value":"#7d9dc8"},"value":"#3434b8"}}},
         {"data":{"name":"aout"},"transform":[{"filter":"datum.ds=='Beer'"}],"mark":{"type":"circle","size":7,"color":"#111","opacity":1},"encoding":{"x":{"field":"cat","type":"nominal"},"y":{"field":"v","type":"quantitative"}}},
         {"data":{"name":"an"},"transform":[{"filter":"datum.ds=='Beer'"}],"mark":{"type":"text","fontSize":7,"font":"Lato","color":"#222"},"encoding":{"x":{"field":"cat","type":"nominal"},"y":{"field":"y","type":"quantitative"},"text":{"field":"label"}}},
         {"data":{"name":"ap"},"transform":[{"filter":"datum.ds=='Beer'"}],"mark":{"type":"text","fontSize":7,"font":"Lato","fontStyle":"italic","align":"left","dx":2,"text":"P","color":"#222"},"encoding":{"x":{"field":"cat","type":"nominal","bandPosition":0},"y":{"field":"y","type":"quantitative"}}},
         {"data":{"name":"ap"},"transform":[{"filter":"datum.ds=='Beer'"}],"mark":{"type":"text","fontSize":7,"font":"Lato","align":"left","dx":8,"color":"#222"},"encoding":{"x":{"field":"cat","type":"nominal","bandPosition":0},"y":{"field":"y","type":"quantitative"},"text":{"field":"label"}}}
        ]},
       {"width":50,"height":132,"title":{"text":"Fold Change: 1.643","fontSize":7,"font":"Lato","fontWeight":"normal","color":"#222","offset":5},"view":{"stroke":"#aaa"},
        "layer":[
         {"data":{"name":"abox"},"transform":[{"filter":"datum.ds=='Landi'"}],"mark":{"type":"rule","color":"#aaa"},"encoding":{"x":{"field":"cat","type":"nominal","scale":{"domain":["Nor","LC"],"paddingInner":0,"paddingOuter":0},"axis":{"style":"ax-ax","title":"Landi"}},"y":{"field":"lo","type":"quantitative","scale":{"domain":[-1.5,3.5],"nice":false,"zero":false},"axis":{"style":"ax-a","values":[-1.5,0,1.5,3,3.5],"tickCount":20,"format":".1f","title":"HMGA2  Expression"}},"y2":{"field":"hi"}}},
         {"data":{"name":"abox"},"transform":[{"filter":"datum.ds=='Landi'"}],"mark":{"type":"tick","color":"#aaa","size":8,"thickness":1},"encoding":{"x":{"field":"cat","type":"nominal"},"y":{"field":"lo","type":"quantitative"}}},
         {"data":{"name":"abox"},"transform":[{"filter":"datum.ds=='Landi'"}],"mark":{"type":"tick","color":"#aaa","size":8,"thickness":1},"encoding":{"x":{"field":"cat","type":"nominal"},"y":{"field":"hi","type":"quantitative"}}},
         {"data":{"name":"abox"},"transform":[{"filter":"datum.ds=='Landi'"}],"mark":{"type":"bar","size":16,"strokeWidth":0.8},"encoding":{"x":{"field":"cat","type":"nominal"},"y":{"field":"q1","type":"quantitative"},"y2":{"field":"q3"},"fill":{"condition":{"test":"datum.cat=='Nor'","value":"#b8d0ec"},"value":"#5b5bf3"},"stroke":{"condition":{"test":"datum.cat=='Nor'","value":"#9cb8dd"},"value":"#4848dc"}}},
         {"data":{"name":"abox"},"transform":[{"filter":"datum.ds=='Landi'"}],"mark":{"type":"tick","size":16,"thickness":1},"encoding":{"x":{"field":"cat","type":"nominal"},"y":{"field":"med","type":"quantitative"},"color":{"condition":{"test":"datum.cat=='Nor'","value":"#7d9dc8"},"value":"#3434b8"}}},
         {"data":{"name":"aout"},"transform":[{"filter":"datum.ds=='Landi'"}],"mark":{"type":"circle","size":7,"color":"#111","opacity":1},"encoding":{"x":{"field":"cat","type":"nominal"},"y":{"field":"v","type":"quantitative"}}},
         {"data":{"name":"an"},"transform":[{"filter":"datum.ds=='Landi'"}],"mark":{"type":"text","fontSize":7,"font":"Lato","color":"#222"},"encoding":{"x":{"field":"cat","type":"nominal"},"y":{"field":"y","type":"quantitative"},"text":{"field":"label"}}},
         {"data":{"name":"ap"},"transform":[{"filter":"datum.ds=='Landi'"}],"mark":{"type":"text","fontSize":7,"font":"Lato","fontStyle":"italic","align":"left","dx":2,"text":"P","color":"#222"},"encoding":{"x":{"field":"cat","type":"nominal","bandPosition":0},"y":{"field":"y","type":"quantitative"}}},
         {"data":{"name":"ap"},"transform":[{"filter":"datum.ds=='Landi'"}],"mark":{"type":"text","fontSize":7,"font":"Lato","align":"left","dx":8,"color":"#222"},"encoding":{"x":{"field":"cat","type":"nominal","bandPosition":0},"y":{"field":"y","type":"quantitative"},"text":{"field":"label"}}}
        ]}
      ],
      "spacing": 43, "bounds": "flush"
     }
    ],
    "columns": 1, "align": "none", "spacing": 6,
    "title": {"text": "a", "anchor": "start", "frame": "group", "fontSize": 16, "fontWeight": "normal", "dx": -34, "offset": -13}
   },
   {"width":238,"height":198,
    "title": {"text": "b", "anchor": "start", "frame": "bounds", "fontSize": 17, "fontWeight": "normal", "dx": -2, "offset": -9},
    "view": {"stroke": "#000", "strokeWidth": 1},
    "layer":[
     {"data":{"name":"kmb"},"mark":{"type":"line","interpolate":"step-after","strokeWidth":1},
      "encoding":{"x":{"field":"t","type":"quantitative","scale":{"domain":[-2,229],"nice":false,"zero":false},"axis":{"style":"ax-b","values":[0,50,100,150,200],"tickCount":20,"title":"Time (months)"}},
       "y":{"field":"s","type":"quantitative","scale":{"domain":[-0.056,1.056],"nice":false,"zero":false},"axis":{"style":"ax-b","values":[0,0.2,0.4,0.6,0.8,1.0],"tickCount":20,"format":".1f","labelAngle":-90,"labelAlign":"center","labelBaseline":"bottom","title":"Probability"}},
       "color":{"field":"g","type":"nominal","scale":{"domain":["low","high"],"range":["#111111","#ff2a2a"]},"legend":{"orient":"none","legendX":170,"legendY":15,"title":null,"symbolType":"stroke","symbolSize":225,"symbolStrokeWidth":1,"labelFontSize":8.5,"rowPadding":1,"padding":0,"labelOffset":6}}}},
     {"data":{"name":"cb"},"mark":{"type":"point","shape":"M-1,0L1,0M0,-1L0,1","size":20,"filled":false,"strokeWidth":0.8,"opacity":1},"encoding":{"x":{"field":"t","type":"quantitative"},"y":{"field":"s","type":"quantitative"},"color":{"field":"g","type":"nominal"}}},
     {"data":{"name":"tc"},"transform":[{"filter":"datum.p=='b' && datum.kind=='n'"}],"mark":{"type":"text","fontSize":7.5,"color":"#222"},"encoding":{"x":{"field":"t","type":"quantitative"},"y":{"field":"s","type":"quantitative"},"text":{"field":"label"}}},
     {"data":{"name":"tc"},"transform":[{"filter":"datum.p=='b' && datum.kind=='test'"}],"mark":{"type":"text","fontSize":7.5,"fontStyle":"italic","align":"left","color":"#222"},"encoding":{"x":{"field":"t","type":"quantitative"},"y":{"field":"s","type":"quantitative"},"text":{"field":"label"}}},
     {"data":{"name":"tc"},"transform":[{"filter":"datum.p=='b' && datum.kind=='p'"}],"mark":{"type":"text","fontSize":7.5,"fontStyle":"italic","align":"left","text":"P","color":"#222"},"encoding":{"x":{"field":"t","type":"quantitative"},"y":{"field":"s","type":"quantitative"}}},
     {"data":{"name":"tc"},"transform":[{"filter":"datum.p=='b' && datum.kind=='p'"}],"mark":{"type":"text","fontSize":7.5,"align":"left","dx":7,"color":"#222"},"encoding":{"x":{"field":"t","type":"quantitative"},"y":{"field":"s","type":"quantitative"},"text":{"field":"label"}}}
    ]}
  ],
  "columns": 1, "align": "none", "spacing": 3,
  "resolve": {"scale": {"color": "independent"}, "legend": {"color": "independent"}}
 },
 {
  "concat": [
   {
    "concat": [
     {
      "hconcat": [
       {"width":157,"height":133,"title":{"text":"Zhu Tsao Lung GSE14814","fontSize":8.5,"fontWeight":"bold","offset":-20},
        "layer":[
         {"data":{"name":"kmc"},"transform":[{"filter":"datum.p=='zhu'"}],"mark":{"type":"line","interpolate":"step-after","strokeWidth":1.2},
          "encoding":{"x":{"field":"t","type":"quantitative","scale":{"domain":[0,150],"nice":false},"axis":{"style":"ax-km","values":[0,50,100,150],"tickCount":20,"title":"Months"}},
           "y":{"field":"s","type":"quantitative","scale":{"domain":[0,190],"nice":false},"axis":{"style":"ax-km","values":[0,50,100,150],"tickCount":20,"domain":false,"title":"Survival (%)"}},
           "color":{"field":"g","type":"nominal","scale":{"domain":["Hgh","Low"],"range":["#e8262c","#22a33a"]},"legend":{"orient":"none","legendX":121,"legendY":30,"title":null,"symbolType":"stroke","symbolSize":150,"symbolStrokeWidth":1.3,"labelFontSize":8.5,"rowPadding":2,"padding":0,"labelOffset":5}}}},
         {"mark":{"type":"rule","color":"#000","strokeWidth":1.5},"encoding":{"x":{"datum":0,"type":"quantitative"},"y":{"datum":0,"type":"quantitative"},"y2":{"datum":150}}},
         {"data":{"name":"tc"},"transform":[{"filter":"datum.p=='zhu' && datum.kind=='n'"}],"mark":{"type":"text","fontSize":8,"color":"#222"},"encoding":{"x":{"field":"t","type":"quantitative"},"y":{"field":"s","type":"quantitative"},"text":{"field":"label"}}},
         {"data":{"name":"tc"},"transform":[{"filter":"datum.p=='zhu' && datum.kind=='test'"}],"mark":{"type":"text","fontSize":8,"fontStyle":"italic","align":"left","color":"#222"},"encoding":{"x":{"field":"t","type":"quantitative"},"y":{"field":"s","type":"quantitative"},"text":{"field":"label"}}},
         {"data":{"name":"tc"},"transform":[{"filter":"datum.p=='zhu' && datum.kind=='p'"}],"mark":{"type":"text","fontSize":8,"fontStyle":"italic","align":"left","text":"P","color":"#222"},"encoding":{"x":{"field":"t","type":"quantitative"},"y":{"field":"s","type":"quantitative"}}},
         {"data":{"name":"tc"},"transform":[{"filter":"datum.p=='zhu' && datum.kind=='p'"}],"mark":{"type":"text","fontSize":8,"align":"left","dx":7,"color":"#222"},"encoding":{"x":{"field":"t","type":"quantitative"},"y":{"field":"s","type":"quantitative"},"text":{"field":"label"}}}
        ]},
       {"width":157,"height":133,"title":{"text":"Rousseaux GSE30219","fontSize":8.5,"fontWeight":"bold","offset":-20},
        "layer":[
         {"data":{"name":"kmc"},"transform":[{"filter":"datum.p=='rou'"}],"mark":{"type":"line","interpolate":"step-after","strokeWidth":1.2},
          "encoding":{"x":{"field":"t","type":"quantitative","scale":{"domain":[0,250],"nice":false},"axis":{"style":"ax-km","values":[0,50,100,150,200,250],"tickCount":20,"title":"Months"}},
           "y":{"field":"s","type":"quantitative","scale":{"domain":[0,190],"nice":false},"axis":{"style":"ax-km","values":[0,50,100,150],"tickCount":20,"domain":false,"title":"Survival (%)"}},
           "color":{"field":"g","type":"nominal","scale":{"domain":["Hgh","Low"],"range":["#e8262c","#22a33a"]},"legend":{"orient":"none","legendX":122,"legendY":29,"title":null,"symbolType":"stroke","symbolSize":150,"symbolStrokeWidth":1.3,"labelFontSize":8.5,"rowPadding":1,"padding":0,"labelOffset":5}}}},
         {"mark":{"type":"rule","color":"#000","strokeWidth":1.5},"encoding":{"x":{"datum":0,"type":"quantitative"},"y":{"datum":0,"type":"quantitative"},"y2":{"datum":150}}},
         {"data":{"name":"cc"},"transform":[{"filter":"datum.p=='rou'"}],"mark":{"type":"point","shape":"M0,-1L0,1","size":12,"filled":false,"strokeWidth":1,"opacity":1},"encoding":{"x":{"field":"t","type":"quantitative"},"y":{"field":"s","type":"quantitative"},"color":{"field":"g","type":"nominal"}}},
         {"data":{"name":"tc"},"transform":[{"filter":"datum.p=='rou' && datum.kind=='n'"}],"mark":{"type":"text","fontSize":8,"color":"#222"},"encoding":{"x":{"field":"t","type":"quantitative"},"y":{"field":"s","type":"quantitative"},"text":{"field":"label"}}},
         {"data":{"name":"tc"},"transform":[{"filter":"datum.p=='rou' && datum.kind=='test'"}],"mark":{"type":"text","fontSize":8,"fontStyle":"italic","align":"left","color":"#222"},"encoding":{"x":{"field":"t","type":"quantitative"},"y":{"field":"s","type":"quantitative"},"text":{"field":"label"}}},
         {"data":{"name":"tc"},"transform":[{"filter":"datum.p=='rou' && datum.kind=='p'"}],"mark":{"type":"text","fontSize":8,"fontStyle":"italic","align":"left","text":"P","color":"#222"},"encoding":{"x":{"field":"t","type":"quantitative"},"y":{"field":"s","type":"quantitative"}}},
         {"data":{"name":"tc"},"transform":[{"filter":"datum.p=='rou' && datum.kind=='p'"}],"mark":{"type":"text","fontSize":8,"align":"left","dx":7,"color":"#222"},"encoding":{"x":{"field":"t","type":"quantitative"},"y":{"field":"s","type":"quantitative"},"text":{"field":"label"}}}
        ]}
      ],
      "spacing": 52, "bounds": "flush",
      "resolve": {"scale": {"color": "independent"}, "legend": {"color": "independent"}}
     },
     {
      "hconcat": [
       {"width":157,"height":105,"title":{"text":"Chitale Lung","fontSize":8.5,"fontWeight":"bold","offset":8},
        "layer":[
         {"data":{"name":"kmc"},"transform":[{"filter":"datum.p=='chi'"}],"mark":{"type":"line","interpolate":"step-after","strokeWidth":1.2},
          "encoding":{"x":{"field":"t","type":"quantitative","scale":{"domain":[0,100],"nice":false},"axis":{"style":"ax-km","values":[0,20,40,60,80,100],"tickCount":20,"title":"Months"}},
           "y":{"field":"s","type":"quantitative","scale":{"domain":[0,150],"nice":false},"axis":{"style":"ax-km","values":[0,50,100,150],"tickCount":20,"title":"Survival (%)"}},
           "color":{"field":"g","type":"nominal","scale":{"domain":["High","Low"],"range":["#e8262c","#22a33a"]},"legend":{"orient":"none","legendX":123,"legendY":1,"title":null,"symbolType":"stroke","symbolSize":150,"symbolStrokeWidth":1.3,"labelFontSize":8.5,"rowPadding":2,"padding":0,"labelOffset":5}}}},
         {"data":{"name":"cc"},"transform":[{"filter":"datum.p=='chi'"}],"mark":{"type":"point","shape":"M0,-1L0,1","size":12,"filled":false,"strokeWidth":1,"opacity":1},"encoding":{"x":{"field":"t","type":"quantitative"},"y":{"field":"s","type":"quantitative"},"color":{"field":"g","type":"nominal"}}},
         {"data":{"name":"tc"},"transform":[{"filter":"datum.p=='chi' && datum.kind=='n'"}],"mark":{"type":"text","fontSize":8,"color":"#222"},"encoding":{"x":{"field":"t","type":"quantitative"},"y":{"field":"s","type":"quantitative"},"text":{"field":"label"}}},
         {"data":{"name":"tc"},"transform":[{"filter":"datum.p=='chi' && datum.kind=='test'"}],"mark":{"type":"text","fontSize":8,"fontStyle":"italic","align":"left","color":"#222"},"encoding":{"x":{"field":"t","type":"quantitative"},"y":{"field":"s","type":"quantitative"},"text":{"field":"label"}}},
         {"data":{"name":"tc"},"transform":[{"filter":"datum.p=='chi' && datum.kind=='p'"}],"mark":{"type":"text","fontSize":8,"fontStyle":"italic","align":"left","text":"P","color":"#222"},"encoding":{"x":{"field":"t","type":"quantitative"},"y":{"field":"s","type":"quantitative"}}},
         {"data":{"name":"tc"},"transform":[{"filter":"datum.p=='chi' && datum.kind=='p'"}],"mark":{"type":"text","fontSize":8,"align":"left","dx":7,"color":"#222"},"encoding":{"x":{"field":"t","type":"quantitative"},"y":{"field":"s","type":"quantitative"},"text":{"field":"label"}}}
        ]},
       {"width":157,"height":105,"title":{"text":"LUAD - TCGA - Lung adenocarcinoma","fontSize":8.5,"fontWeight":"bold","offset":8},
        "layer":[
         {"data":{"name":"kmc"},"transform":[{"filter":"datum.p=='luad'"}],"mark":{"type":"line","interpolate":"step-after","strokeWidth":1.2},
          "encoding":{"x":{"field":"t","type":"quantitative","scale":{"domain":[0,300],"nice":false},"axis":{"style":"ax-km","values":[0,100,200,300],"tickCount":20,"title":"Months"}},
           "y":{"field":"s","type":"quantitative","scale":{"domain":[0,150],"nice":false},"axis":{"style":"ax-km","values":[0,50,100,150],"tickCount":20,"title":"Survival (%)"}},
           "color":{"field":"g","type":"nominal","scale":{"domain":["High","Low"],"range":["#e8262c","#22a33a"]},"legend":{"orient":"none","legendX":122,"legendY":0,"title":null,"symbolType":"stroke","symbolSize":150,"symbolStrokeWidth":1.3,"labelFontSize":8.5,"rowPadding":2,"padding":0,"labelOffset":5}}}},
         {"data":{"name":"cc"},"transform":[{"filter":"datum.p=='luad'"}],"mark":{"type":"point","shape":"M0,-1L0,1","size":12,"filled":false,"strokeWidth":1,"opacity":1},"encoding":{"x":{"field":"t","type":"quantitative"},"y":{"field":"s","type":"quantitative"},"color":{"field":"g","type":"nominal"}}},
         {"data":{"name":"tc"},"transform":[{"filter":"datum.p=='luad' && datum.kind=='n'"}],"mark":{"type":"text","fontSize":8,"color":"#222"},"encoding":{"x":{"field":"t","type":"quantitative"},"y":{"field":"s","type":"quantitative"},"text":{"field":"label"}}},
         {"data":{"name":"tc"},"transform":[{"filter":"datum.p=='luad' && datum.kind=='test'"}],"mark":{"type":"text","fontSize":8,"fontStyle":"italic","align":"left","color":"#222"},"encoding":{"x":{"field":"t","type":"quantitative"},"y":{"field":"s","type":"quantitative"},"text":{"field":"label"}}},
         {"data":{"name":"tc"},"transform":[{"filter":"datum.p=='luad' && datum.kind=='p'"}],"mark":{"type":"text","fontSize":8,"fontStyle":"italic","align":"left","text":"P","color":"#222"},"encoding":{"x":{"field":"t","type":"quantitative"},"y":{"field":"s","type":"quantitative"}}},
         {"data":{"name":"tc"},"transform":[{"filter":"datum.p=='luad' && datum.kind=='p'"}],"mark":{"type":"text","fontSize":8,"align":"left","dx":7,"color":"#222"},"encoding":{"x":{"field":"t","type":"quantitative"},"y":{"field":"s","type":"quantitative"},"text":{"field":"label"}}}
        ]}
      ],
      "spacing": 52, "bounds": "flush",
      "resolve": {"scale": {"color": "independent"}, "legend": {"color": "independent"}}
     }
    ],
    "columns": 1, "align": "none", "spacing": 19,
    "title": {"text": "c", "anchor": "start", "frame": "group", "fontSize": 17, "fontWeight": "normal", "dx": -30, "offset": 0},
    "resolve": {"scale": {"color": "independent"}, "legend": {"color": "independent"}}
   },
   {
    "hconcat": [
     {"width":130,"height":114,"title":{"text":"Fold Change: 1.515","fontSize":7.5,"fontWeight":"normal","offset":7,"color":"#222"},
      "layer":[
       {"data":{"name":"dbox"},"mark":{"type":"rule","color":"#111","strokeWidth":1.5},"encoding":{"x":{"field":"cat","type":"nominal","scale":{"domain":["Nor","LC"],"paddingInner":0,"paddingOuter":0.15},"axis":{"style":"ax-km","labelFontSize":13,"labelFontWeight":"normal","labelAngle":0,"title":null,"domainColor":"#555","domainWidth":2,"tickSize":4}},"y":{"field":"lo","type":"quantitative","scale":{"domain":[0,5],"nice":false},"axis":{"style":"ax-km","values":[0,1,2,3,4,5],"tickCount":20,"title":["Relative HMGA2 expression","(Normalized as to GAPDH)"],"titleFontSize":9.5,"titleLineHeight":11,"titlePadding":3}},"y2":{"field":"hi"}}},
       {"data":{"name":"dbox"},"mark":{"type":"tick","color":"#111","size":18,"thickness":1.5},"encoding":{"x":{"field":"cat","type":"nominal"},"y":{"field":"lo","type":"quantitative"}}},
       {"data":{"name":"dbox"},"mark":{"type":"tick","color":"#111","size":18,"thickness":1.5},"encoding":{"x":{"field":"cat","type":"nominal"},"y":{"field":"hi","type":"quantitative"}}},
       {"data":{"name":"dbox"},"mark":{"type":"bar","size":38,"stroke":"#111","strokeWidth":1.5},"encoding":{"x":{"field":"cat","type":"nominal"},"y":{"field":"q1","type":"quantitative"},"y2":{"field":"q3"},"fill":{"condition":{"test":"datum.cat=='Nor'","value":"#7f9fd6"},"value":"#5252ee"}}},
       {"data":{"name":"dbox"},"mark":{"type":"tick","color":"#111","size":38,"thickness":2},"encoding":{"x":{"field":"cat","type":"nominal"},"y":{"field":"med","type":"quantitative"}}},
       {"data":{"name":"dn"},"mark":{"type":"text","fontSize":7,"color":"#222"},"encoding":{"x":{"field":"cat","type":"nominal"},"y":{"field":"y","type":"quantitative"},"text":{"field":"label"}}},
       {"data":{"name":"dp"},"mark":{"type":"text","fontSize":7.5,"fontStyle":"italic","align":"left","dx":-19,"text":"p","color":"#222"},"encoding":{"x":{"field":"cat","type":"nominal"},"y":{"field":"y","type":"quantitative"}}},
       {"data":{"name":"dp"},"mark":{"type":"text","fontSize":7.5,"align":"left","dx":-13,"color":"#222"},"encoding":{"x":{"field":"cat","type":"nominal"},"y":{"field":"y","type":"quantitative"},"text":{"field":"label"}}}
      ]},
     {"width":159,"height":106,
      "title": {"text": "e", "anchor": "start", "frame": "group", "fontSize": 15, "fontWeight": "normal", "dx": -40, "offset": 17},
      "layer":[
       {"data":{"name":"kme"},"mark":{"type":"line","interpolate":"step-after","strokeWidth":1.2},
        "encoding":{"x":{"field":"t","type":"quantitative","scale":{"domain":[0,80],"nice":false},"axis":{"style":"ax-km","values":[0,20,40,60,80],"tickCount":20,"title":"Months","titleFontWeight":"normal","titleFontSize":8}},
         "y":{"field":"s","type":"quantitative","scale":{"domain":[0,100],"nice":false},"axis":{"style":"ax-km","values":[0,20,40,60,80,100],"tickCount":20,"title":"Survival (%)"}},
         "color":{"field":"g","type":"nominal","scale":{"domain":["Low","High"],"range":["#2020b8","#e8262c"]},"legend":{"orient":"none","legendX":117,"legendY":-5,"title":null,"symbolType":"stroke","symbolSize":150,"symbolStrokeWidth":1.3,"labelFontSize":8.5,"rowPadding":2,"padding":0,"labelOffset":5}}}},
       {"data":{"name":"ce"},"mark":{"type":"point","shape":"M0,-1L0,1","size":12,"filled":false,"strokeWidth":1,"opacity":1},"encoding":{"x":{"field":"t","type":"quantitative"},"y":{"field":"s","type":"quantitative"},"color":{"field":"g","type":"nominal"}}},
       {"data":{"name":"tc"},"transform":[{"filter":"datum.p=='e' && datum.kind=='n'"}],"mark":{"type":"text","fontSize":8,"color":"#222"},"encoding":{"x":{"field":"t","type":"quantitative"},"y":{"field":"s","type":"quantitative"},"text":{"field":"label"}}},
       {"data":{"name":"tc"},"transform":[{"filter":"datum.p=='e' && datum.kind=='test'"}],"mark":{"type":"text","fontSize":8,"fontStyle":"italic","align":"left","color":"#222"},"encoding":{"x":{"field":"t","type":"quantitative"},"y":{"field":"s","type":"quantitative"},"text":{"field":"label"}}},
       {"data":{"name":"tc"},"transform":[{"filter":"datum.p=='e' && datum.kind=='p'"}],"mark":{"type":"text","fontSize":8,"fontStyle":"italic","align":"left","text":"P","color":"#222"},"encoding":{"x":{"field":"t","type":"quantitative"},"y":{"field":"s","type":"quantitative"}}},
       {"data":{"name":"tc"},"transform":[{"filter":"datum.p=='e' && datum.kind=='p'"}],"mark":{"type":"text","fontSize":8,"align":"left","dx":7,"color":"#222"},"encoding":{"x":{"field":"t","type":"quantitative"},"y":{"field":"s","type":"quantitative"},"text":{"field":"label"}}}
      ]}
    ],
    "spacing": 76, "bounds": "flush", "center": true,
    "title": {"text": "d", "anchor": "start", "frame": "group", "fontSize": 15, "fontWeight": "normal", "dx": -35, "offset": -16},
    "resolve": {"scale": {"color": "independent"}, "legend": {"color": "independent"}}
   }
  ],
  "columns": 1, "align": "none", "spacing": 50,
  "resolve": {"scale": {"color": "independent"}, "legend": {"color": "independent"}}
 }
],
"columns": 2, "align": "none", "spacing": 15,
"resolve": {"scale": {"color": "independent"}, "legend": {"color": "independent"}}
}
